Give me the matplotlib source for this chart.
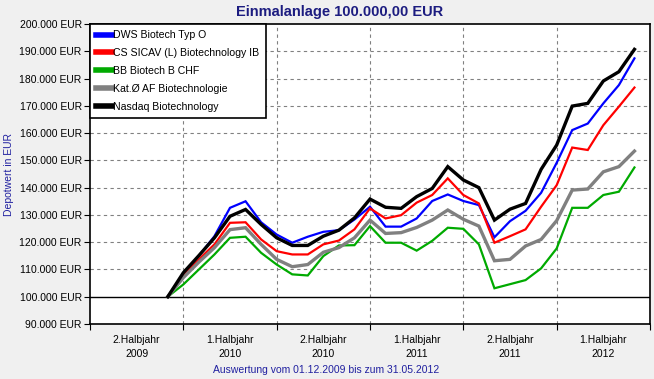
import matplotlib
matplotlib.use("Agg")
import matplotlib.pyplot as plt
from matplotlib.ticker import FuncFormatter, FixedLocator

plt.rcParams['font.family'] = ['Liberation Sans', 'DejaVu Sans']

# months since 01.07.2009; first point = 01.12.2009, then month ends
months = list(range(5, 36))

dws = [100, 108.5, 115.0, 122.2, 132.6, 135.0, 127.3, 122.8, 119.8, 122.0, 123.8, 124.4, 128.3,
       133.0, 125.7, 125.7, 128.7, 135.1, 137.5, 135.1, 133.6, 121.8, 127.7, 131.5, 138.1,
       149.1, 161.1, 163.5, 170.9, 177.6, 187.4]
cs = [100, 107.8, 113.7, 119.2, 127.1, 127.3, 121.0, 116.7, 115.5, 115.5, 119.2, 120.6, 124.7,
      132.4, 128.7, 129.9, 134.5, 137.3, 143.4, 137.3, 134.2, 119.8, 122.2, 124.7, 133.0,
      140.9, 154.7, 153.8, 162.9, 169.7, 176.7]
bb = [100, 104.5, 110.0, 115.5, 121.6, 122.0, 116.1, 111.8, 108.2, 107.8, 114.9, 118.8, 118.9,
      125.9, 119.8, 119.8, 116.9, 120.5, 125.3, 124.9, 119.2, 103.1, 104.6, 106.1, 110.4,
      117.7, 132.6, 132.6, 137.3, 138.5, 147.4]
kat = [100, 107.0, 112.7, 118.0, 124.6, 125.3, 119.2, 113.7, 111.0, 111.8, 116.3, 118.0, 121.6,
       128.1, 123.2, 123.5, 125.4, 128.1, 131.8, 128.4, 125.9, 113.2, 113.7, 118.6, 121.0,
       127.9, 139.1, 139.5, 145.8, 147.7, 153.4]
nasdaq = [100, 108.8, 115.1, 121.6, 129.5, 132.0, 126.5, 121.6, 118.8, 118.8, 122.2, 124.4, 128.9,
          135.8, 132.8, 132.4, 136.7, 139.7, 147.7, 142.8, 140.0, 128.1, 132.1, 134.2, 146.7,
          155.6, 169.9, 170.9, 179.1, 182.5, 190.7]

series = [
    ("DWS Biotech Typ O", dws, "#0000ff", 1.6),
    ("CS SICAV (L) Biotechnology IB", cs, "#ff0000", 1.6),
    ("BB Biotech B CHF", bb, "#00aa00", 1.6),
    ("Kat.\u00d8 AF Biotechnologie", kat, "#808080", 2.4),
    ("Nasdaq Biotechnology", nasdaq, "#000000", 2.4),
]

half_labels = ["2.Halbjahr\n2009", "1.Halbjahr\n2010", "2.Halbjahr\n2010",
               "1.Halbjahr\n2011", "2.Halbjahr\n2011", "1.Halbjahr\n2012"]

fig = plt.figure(figsize=(6.54, 3.79), dpi=100, facecolor="#f0f0f0")
ax = fig.add_axes([90/654, 1-324/379, 560/654, 300/379])
ax.set_facecolor("white")

for name, vals, col, lw in series:
    ax.plot(months, [v*1000 for v in vals], color=col, lw=lw, label=name,
            solid_joinstyle="miter")

ax.set_xlim(0, 36)
ax.set_ylim(90000, 200000)

# grid
for yv in range(110000, 200000, 10000):
    ax.axhline(yv, color="#808080", lw=0.8, ls=(0, (3, 3)), zorder=0)
for xv in range(6, 36, 6):
    ax.axvline(xv, color="#808080", lw=0.8, ls=(0, (3, 3)), zorder=0)
ax.axhline(100000, color="black", lw=1.0, zorder=1)

ax.yaxis.set_major_locator(FixedLocator(range(90000, 200001, 10000)))
ax.yaxis.set_major_formatter(FuncFormatter(lambda v, p: f"{int(v):,} EUR".replace(",", ".")))
ax.tick_params(axis="y", labelsize=7.5, length=4, width=0.8, pad=2, colors="black")

ax.set_xticks(range(0, 37, 6))
ax.set_xticklabels([])
ax.set_xticks([3 + 6*k for k in range(6)], minor=True)
ax.set_xticklabels(half_labels, minor=True, fontsize=7.5, linespacing=1.5)
ax.tick_params(axis="x", which="minor", length=0, pad=8)
ax.tick_params(axis="x", which="major", length=4, width=0.8)

for s in ax.spines.values():
    s.set_linewidth(1.2)

leg = ax.legend(loc="upper left", bbox_to_anchor=(0, 1), borderaxespad=0,
                fancybox=False, edgecolor="black", framealpha=1, fontsize=7.6,
                handlelength=1.5, handletextpad=0.1, labelspacing=0.74,
                borderpad=0.6)
leg.get_frame().set_linewidth(1.2)
for h in leg.get_lines():
    h.set_linewidth(4)

fig.text(340/654, 1-12/379, "Einmalanlage 100.000,00 EUR", ha="center", va="center",
         fontsize=10.5, fontweight="bold", color="#1c1c80")
fig.text(9/654, 1-175/379, "Depotwert in EUR", ha="center", va="center", rotation=90,
         fontsize=7.5, color="#2020a0")
fig.text(326/654, 1-370/379, "Auswertung vom 01.12.2009 bis zum 31.05.2012", ha="center",
         va="center", fontsize=7.5, color="#2020a0")

fig.savefig("out.png", dpi=100, facecolor=fig.get_facecolor())
